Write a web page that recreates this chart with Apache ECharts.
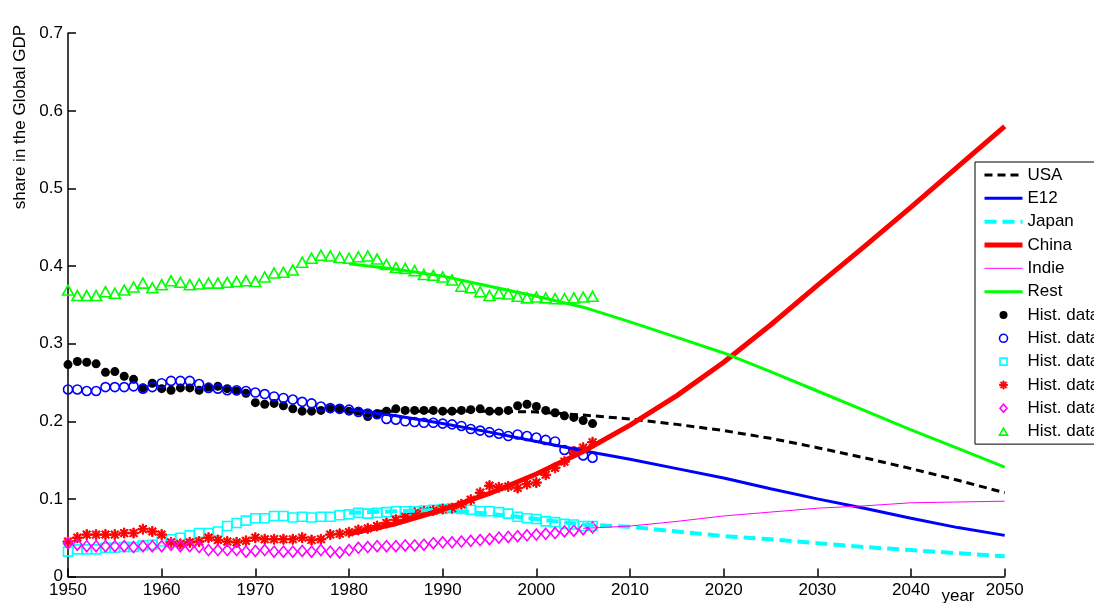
<!DOCTYPE html>
<html><head><meta charset="utf-8">
<script src="https://cdn.jsdelivr.net/npm/echarts@6/dist/echarts.min.js"></script>
<style>html,body{margin:0;padding:0;background:#fff}#c{width:1094px;height:603px}</style>
</head><body><div id="c"></div>
<script>
const histYears = [1950,1951,1952,1953,1954,1955,1956,1957,1958,1959,
  1960,1961,1962,1963,1964,1965,1966,1967,1968,1969,
  1970,1971,1972,1973,1974,1975,1976,1977,1978,1979,
  1980,1981,1982,1983,1984,1985,1986,1987,1988,1989,
  1990,1991,1992,1993,1994,1995,1996,1997,1998,1999,
  2000,2001,2002,2003,2004,2005,2006];
const usaHist = [0.273,0.277,0.276,0.274,0.263,0.264,0.258,0.254,0.243,0.249,
  0.242,0.240,0.243,0.243,0.240,0.244,0.245,0.242,0.239,0.236,
  0.224,0.222,0.223,0.220,0.216,0.213,0.213,0.214,0.216,0.216,
  0.213,0.213,0.206,0.209,0.213,0.216,0.214,0.214,0.214,0.214,
  0.213,0.213,0.214,0.215,0.216,0.213,0.213,0.214,0.220,0.222,
  0.219,0.214,0.211,0.207,0.205,0.201,0.197];
const e12Hist = [0.241,0.241,0.239,0.239,0.244,0.244,0.244,0.245,0.242,0.244,
  0.249,0.252,0.252,0.252,0.248,0.243,0.242,0.240,0.240,0.239,
  0.237,0.235,0.232,0.230,0.228,0.225,0.223,0.219,0.217,0.216,
  0.215,0.212,0.210,0.209,0.203,0.202,0.200,0.199,0.198,0.198,
  0.197,0.196,0.194,0.190,0.188,0.186,0.184,0.181,0.183,0.181,
  0.179,0.176,0.174,0.163,0.161,0.156,0.153];
const japanHist = [0.032,0.035,0.035,0.035,0.037,0.037,0.038,0.038,0.040,0.041,
  0.045,0.048,0.050,0.053,0.056,0.056,0.058,0.065,0.069,0.072,
  0.075,0.075,0.078,0.078,0.076,0.077,0.076,0.077,0.077,0.079,
  0.080,0.082,0.081,0.082,0.083,0.084,0.084,0.084,0.085,0.086,
  0.087,0.088,0.087,0.086,0.084,0.084,0.083,0.081,0.077,0.075,
  0.074,0.071,0.070,0.068,0.067,0.065,0.065];
const chinaHist = [0.045,0.050,0.054,0.054,0.054,0.054,0.056,0.056,0.061,0.058,
  0.054,0.044,0.042,0.044,0.045,0.050,0.047,0.045,0.044,0.046,
  0.050,0.048,0.048,0.048,0.048,0.050,0.047,0.048,0.054,0.055,
  0.057,0.060,0.062,0.065,0.069,0.073,0.077,0.082,0.084,0.085,
  0.087,0.088,0.093,0.099,0.108,0.117,0.115,0.116,0.114,0.119,
  0.121,0.131,0.140,0.148,0.161,0.166,0.173];
const indieHist = [0.043,0.041,0.039,0.039,0.039,0.039,0.039,0.038,0.039,0.039,
  0.039,0.041,0.039,0.039,0.038,0.034,0.034,0.034,0.034,0.032,
  0.033,0.034,0.032,0.032,0.032,0.033,0.032,0.034,0.032,0.031,
  0.034,0.037,0.038,0.039,0.039,0.039,0.040,0.040,0.041,0.043,
  0.044,0.044,0.045,0.046,0.047,0.048,0.050,0.051,0.052,0.053,
  0.054,0.055,0.056,0.058,0.059,0.061,0.063];
const restHist = [0.369,0.362,0.362,0.362,0.367,0.365,0.369,0.373,0.378,0.372,
  0.376,0.381,0.379,0.376,0.377,0.378,0.378,0.379,0.380,0.381,
  0.380,0.386,0.391,0.392,0.395,0.405,0.410,0.414,0.413,0.411,
  0.410,0.412,0.413,0.409,0.402,0.398,0.397,0.394,0.389,0.388,
  0.386,0.382,0.374,0.372,0.367,0.362,0.365,0.364,0.361,0.359,
  0.360,0.359,0.358,0.358,0.359,0.360,0.361];

const projYears = [1980,1985,1990,1995,2000,2005,2010,2015,2020,2025,2030,2035,2040,2045,2050];
const usaProj   = [0.213,0.213,0.213,0.213,0.212,0.208,0.203,0.196,0.188,0.178,0.166,0.153,0.139,0.124,0.108];
const e12Proj   = [0.215,0.207,0.197,0.186,0.174,0.162,0.151,0.139,0.127,0.113,0.100,0.088,0.075,0.063,0.053];
const japanProj = [0.082,0.084,0.086,0.081,0.074,0.067,0.064,0.058,0.052,0.048,0.043,0.038,0.034,0.030,0.026];
const chinaProj = [0.055,0.068,0.086,0.107,0.132,0.161,0.195,0.233,0.276,0.324,0.375,0.425,0.476,0.528,0.580];
const indieProj = [null,null,null,null,null,0.062,0.065,0.071,0.078,0.083,0.088,0.091,0.095,0.096,0.097];
const restProj  = [0.403,0.396,0.387,0.374,0.361,0.347,0.328,0.308,0.288,0.264,0.239,0.214,0.189,0.165,0.141];

const lineNames = ['USA','E12','Japan','China','Indie','Rest'];
const histNames = ['Hist. data USA','Hist. data E12','Hist. data Japan','Hist. data China','Hist. data Indie','Hist. data Rest'];
const yLabel = 'share in the Global GDP';
const xLabel = 'year';

const FONT = '"Liberation Sans", Arial, Helvetica, sans-serif';
const STAR = 'path://M4.3,0h1.4v3.3l2.4,-2.4l1,1l-2.4,2.4H10v1.4H6.7l2.4,2.4l-1,1l-2.4,-2.4V10H4.3V6.7L1.9,9.1l-1,-1l2.4,-2.4H0V4.3h3.3L0.9,1.9l1,-1l2.4,2.4z';
// legend icons: invisible corner moves keep the 38x8 item box, so the marker is not stretched
const ICON_SQUARE = 'path://M0,0M38,8M15.5,0.5h7v7h-7z';
const ICON_DIAMOND = 'path://M0,0M38,8M19,0L22.5,4L19,8L15.5,4z';
const ICON_TRIANGLE = 'path://M0,0M38,8M19,0.5L23,7.5H15z';

function pairs(xs, ys){ return xs.map((x,i)=>[x, ys[i]]); }

const lineDefs = [
  {name:lineNames[0], data:usaProj,   color:'#000000', width:3, type:[8,5]},
  {name:lineNames[1], data:e12Proj,   color:'#0000ff', width:3, type:'solid'},
  {name:lineNames[2], data:japanProj, color:'#00ffff', width:4, type:[12,6]},
  {name:lineNames[3], data:chinaProj, color:'#ff0000', width:5, type:'solid'},
  {name:lineNames[4], data:indieProj, color:'#ff00ff', width:1, type:'solid'},
  {name:lineNames[5], data:restProj,  color:'#00ff00', width:3, type:'solid'}
];
const histDefs = [
  {name:histNames[0], data:usaHist,   color:'#000000', symbol:'circle',   size:9,  filled:true},
  {name:histNames[1], data:e12Hist,   color:'#0000ff', symbol:'circle',   size:9,  filled:false},
  {name:histNames[2], data:japanHist, color:'#00ffff', symbol:'rect',     size:9,  filled:false, icon:ICON_SQUARE},
  {name:histNames[3], data:chinaHist, color:'#ff0000', symbol:STAR,       size:10, filled:true},
  {name:histNames[4], data:indieHist, color:'#ff00ff', symbol:'diamond',  size:[9,11], filled:false, icon:ICON_DIAMOND},
  {name:histNames[5], data:restHist,  color:'#00ff00', symbol:'triangle', size:[11,10], filled:false, icon:ICON_TRIANGLE}
];

const series = [];
lineDefs.forEach(d => series.push({
  name:d.name, type:'line', data:pairs(projYears, d.data), symbol:'none', showSymbol:false,
  color:d.color, lineStyle:{color:d.color, width:d.width, type:d.type}, itemStyle:{color:d.color},
  connectNulls:false, silent:true
}));
histDefs.forEach(d => series.push({
  name:d.name, type:'scatter', data:pairs(histYears, d.data), symbol:d.symbol, symbolSize:d.size,
  symbolKeepAspect:true, color:d.color,
  itemStyle: d.filled ? {color:d.color, borderColor:d.color, borderWidth:(d.symbol===STAR?1:0), opacity:1}
                      : {color:'rgba(0,0,0,0)', borderColor:d.color, borderWidth:1.6, opacity:1},
  silent:true
}));

const legendData = lineDefs.map(d => ({name:d.name, itemStyle:{opacity:0},
  lineStyle:{width:d.width, type:d.type, color:d.color}}))
  .concat(histDefs.map(d => {
    const item = {name:d.name,
      itemStyle: d.filled ? {color:d.color, borderColor:d.color, borderWidth:(d.symbol===STAR?1:0), opacity:1}
                          : {color:'rgba(0,0,0,0)', borderColor:d.color, borderWidth:1.6, opacity:1}};
    if (d.icon) item.icon = d.icon;
    return item;
  }));

const chart = echarts.init(document.getElementById('c'), null, {renderer:'canvas'});
chart.setOption({
  animation:false,
  backgroundColor:'#ffffff',
  grid:{left:68, right:89.3, top:33.2, bottom:26.5, containLabel:false},
  xAxis:{type:'value', min:1950, max:2050, interval:10,
    axisLine:{show:true, onZero:false, lineStyle:{color:'#000', width:1.5}},
    axisTick:{show:true, inside:true, length:8, lineStyle:{color:'#000', width:1.5}},
    axisLabel:{color:'#000', fontSize:17, fontFamily:FONT, margin:5, formatter:v => String(v)},
    splitLine:{show:false}},
  yAxis:{type:'value', min:0, max:0.7, interval:0.1,
    axisLine:{show:true, onZero:false, lineStyle:{color:'#000', width:1.5}},
    axisTick:{show:true, inside:true, length:8, lineStyle:{color:'#000', width:1.5}},
    axisLabel:{color:'#000', fontSize:17, fontFamily:FONT, margin:5,
      formatter:v => String(+v.toFixed(1))},
    splitLine:{show:false}},
  legend:{orient:'vertical', left:975, top:162, padding:[4.5,300,4,7],
    itemWidth:38, itemHeight:8, itemGap:6.33, symbolKeepAspect:true,
    backgroundColor:'#fff', borderColor:'#000', borderWidth:1, borderRadius:0,
    textStyle:{fontFamily:FONT, fontSize:17, color:'#000'},
    formatter:n => n.indexOf('Hist. data') === 0 ? 'Hist. data' : n,
    selectedMode:false,
    data:legendData},
  graphic:[
    {type:'text', x:20, y:117, rotation:Math.PI/2,
      style:{text:yLabel, font:'17px ' + FONT, fill:'#000', align:'center', verticalAlign:'middle'}},
    {type:'text', x:958, y:596,
      style:{text:xLabel, font:'17px ' + FONT, fill:'#000', align:'center', verticalAlign:'middle'}}
  ],
  series:series
});
</script></body></html>
